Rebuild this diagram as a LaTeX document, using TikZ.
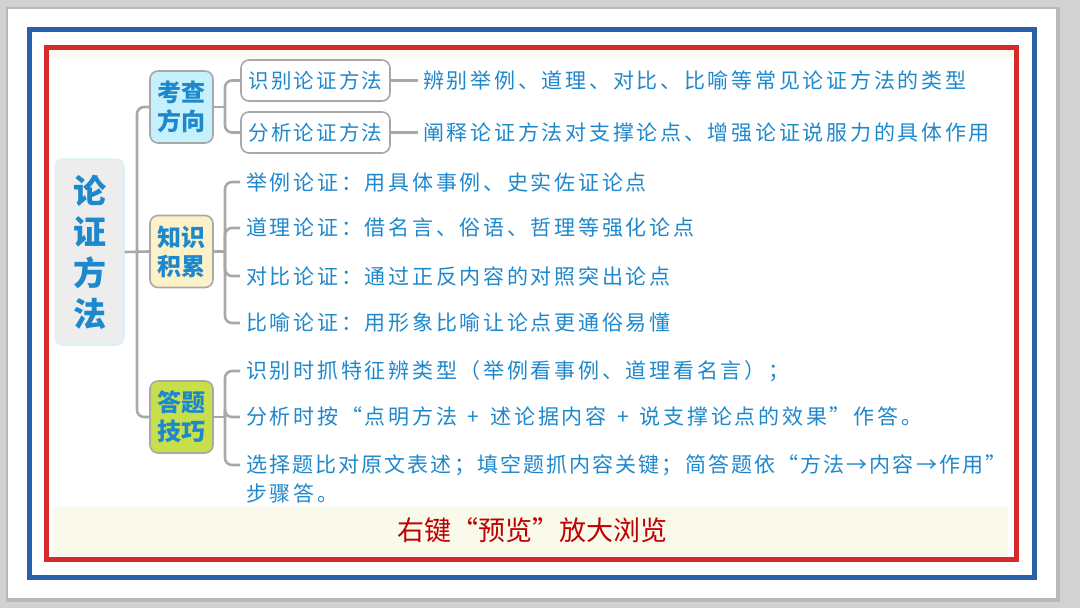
\documentclass[tikz,border=0pt]{standalone}
\usepackage{fontspec}
\setmainfont{Noto Sans CJK SC}
\newfontfamily\cjk{Noto Sans CJK SC}
\newfontfamily\cjksp[LetterSpace=13]{Noto Sans CJK SC}
\newfontfamily\cjkspb[LetterSpace=10]{Noto Sans CJK SC}
\definecolor{txtblue}{HTML}{1E88CC}
\definecolor{framblue}{HTML}{2B5FA8}
\definecolor{framred}{HTML}{D42A2A}
\definecolor{conngray}{HTML}{A8A8A8}
\definecolor{footfill}{HTML}{FAFAEA}
\definecolor{topfill}{HTML}{FBFAF0}
\definecolor{footred}{HTML}{C00000}
\definecolor{kcfill}{HTML}{C4F1FB}
\definecolor{zsfill}{HTML}{FDF1CA}
\definecolor{dtfill}{HTML}{C8DF4C}
\definecolor{rootfill}{HTML}{EDEDED}
\definecolor{rootline}{HTML}{D6F3FA}
\tikzset{
  conn/.style={draw=conngray, line width=2.6pt, rounded corners=7pt},
  rootbox/.style={draw=rootline, line width=1.5pt, fill=rootfill, rounded corners=8pt,
     minimum width=69pt, minimum height=186pt, inner sep=0pt, align=center,
     text=txtblue, font=\cjk\bfseries\fontsize{33}{41}\selectfont},
  lvlbox/.style={draw=conngray, line width=1.6pt, rounded corners=8pt,
     minimum width=63pt, minimum height=72pt, inner sep=0pt, align=center,
     text=txtblue, font=\cjk\bfseries\fontsize{24}{29}\selectfont},
  itembox/.style={draw=conngray, line width=1.6pt, rounded corners=8pt, fill=white,
     minimum width=149pt, minimum height=41pt, inner sep=0pt,
     text=txtblue, font=\cjkspb\fontsize{20.5}{24}\selectfont},
  itemtxt/.style={anchor=west, inner xsep=6pt, inner ysep=2pt,
     text=txtblue, font=\cjksp\fontsize{21}{28}\selectfont},
}
\begin{document}
\begin{tikzpicture}[x=1pt,y=-1pt]
\useasboundingbox (0,0) rectangle (1080,608);
% background and card
\fill[gray!35] (0,0) rectangle (1080,608);
\fill[gray!55] (6,7) rectangle (1060,602);
\fill[white] (8,9) rectangle (1056,598);
% frames
\draw[framblue, line width=5pt] (29.5,29.5) rectangle (1034.5,577.5);
\fill[topfill] (49,50) rectangle (1014,58);
\draw[framred, line width=5pt] (46.5,47.5) rectangle (1016.5,559.5);
% footer band
\fill[footfill] (53,507) rectangle (1008,556);
\node[text=footred, font=\cjk\fontsize{27}{30}\selectfont] (foot) at (532,530) {右键“预览”放大浏览};

% root
\node[rootbox] (root) at (89.5,252) {论\\证\\方\\法};

% level 1
\node[lvlbox, fill=kcfill] (kc) at (181.5,107) {考查\\方向};
\node[lvlbox, fill=zsfill] (zs) at (181.5,251.5) {知识\\积累};
\node[lvlbox, fill=dtfill] (dt) at (181.5,417) {答题\\技巧};

% trunk
\coordinate (tr) at (137,252);
\draw[conn] (root.east) -- (zs.west);
\draw[conn] (kc.west) -| (tr) |- (dt.west);

% branch 1: 考查方向
\node[itembox] (a1) at (315.5,80.5) {识别论证方法};
\node[itembox] (a2) at (315.5,132.5) {分析论证方法};
\node[itemtxt, inner xsep=5pt] (a1d) at (418,80.5) {辨别举例、道理、对比、比喻等常见论证方法的类型};
\node[itemtxt, inner xsep=5pt] (a2d) at (418,132.5) {阐释论证方法对支撑论点、增强论证说服力的具体作用};
\coordinate (b1) at (225,107);
\draw[conn] (kc.east) -- (b1);
\draw[conn] (b1) |- (a1.west);
\draw[conn] (b1) |- (a2.west);
\draw[conn] (a1.east) -- (a1d.west);
\draw[conn] (a2.east) -- (a2d.west);

% branch 2: 知识积累
\node[itemtxt] (z1) at (240,182) {举例论证：用具体事例、史实佐证论点};
\node[itemtxt] (z2) at (240,228) {道理论证：借名言、俗语、哲理等强化论点};
\node[itemtxt] (z3) at (240,276) {对比论证：通过正反内容的对照突出论点};
\node[itemtxt] (z4) at (240,323) {比喻论证：用形象比喻让论点更通俗易懂};
\coordinate (b2) at (225,251.5);
\draw[conn] (zs.east) -- (b2);
\draw[conn] (b2) |- (z1.west);
\draw[conn] (b2) |- (z2.west);
\draw[conn] (b2) |- (z3.west);
\draw[conn] (b2) |- (z4.west);

% branch 3: 答题技巧
\node[itemtxt] (d1) at (240,371) {识别时抓特征辨类型（举例看事例、道理看名言）；};
\node[itemtxt] (d2) at (240,417) {分析时按“点明方法 \,+\, 述论据内容 \,+\, 说支撑论点的效果”作答。};
\node[itemtxt, font=\cjkspb\fontsize{21}{28}\selectfont] (d3) at (240,465) {选择题比对原文表述；填空题抓内容关键；简答题依“方法→内容→作用”};
\node[itemtxt] (d3b) at (240,493) {步骤答。};
\coordinate (b3) at (225,417);
\draw[conn] (dt.east) -- (b3);
\draw[conn] (b3) |- (d1.west);
\draw[conn] (b3) |- (d2.west);
\draw[conn] (b3) |- (d3.west);
\end{tikzpicture}
\end{document}
